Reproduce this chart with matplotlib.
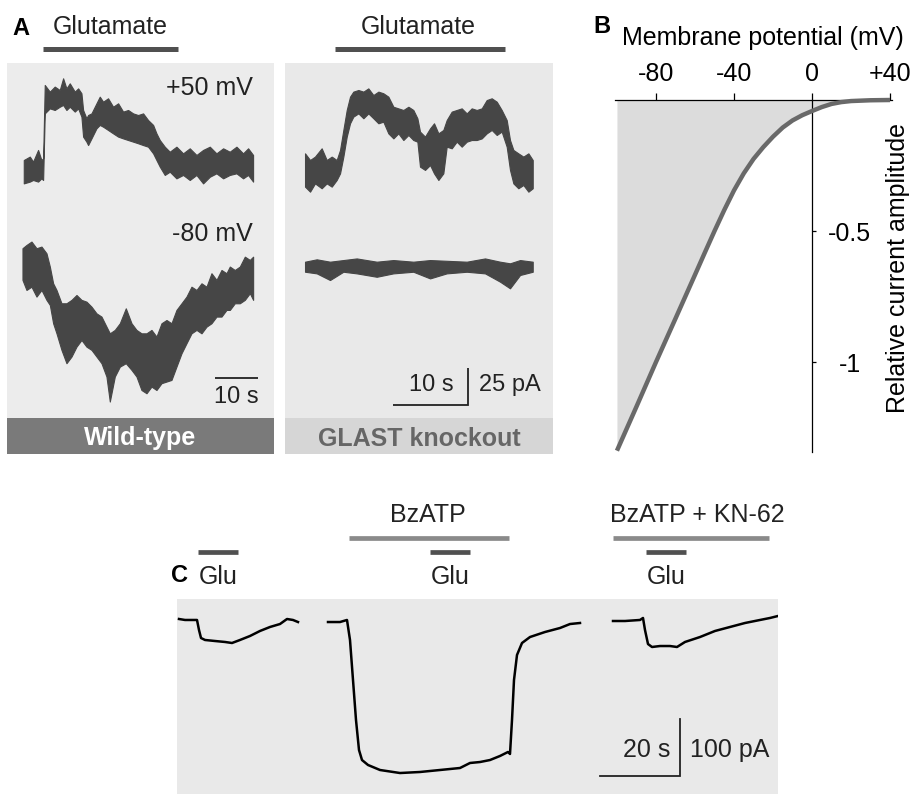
import numpy as np
import matplotlib
matplotlib.use("Agg")
import matplotlib.pyplot as plt

plt.rcParams['font.family'] = ['Liberation Sans', 'DejaVu Sans']

# ---------------- data ----------------
# Panel A, wild-type, +50 mV (time s, current pA; upper / lower noise envelope)
WT50_T = [0, 1.4, 2.17, 3.33, 4.1, 4.5, 4.88, 6.05, 7.2, 8.37,
          9.15, 9.92, 10.7, 11.86, 12.64, 13.41, 13.8, 14.57, 14.96, 15.74,
          16.9, 17.67, 18.45, 19.6, 20.78, 21.94, 23.1, 24.26, 25.43, 26.59,
          27.75, 28.91, 30.08, 30.85, 31.63, 32.79, 33.95, 35.5, 37.05, 38.6,
          40.16, 41.7, 43.26, 44.8, 46.36, 47.9, 49.46, 51.0, 52.17, 53.33]
WT50_HI = [8.1, 10.4, 7.0, 14.9, 8.1, 9.2, 58.8, 54.3, 57.7, 55.4,
           63.3, 56.5, 59.9, 54.3, 56.5, 53.2, 41.9, 36.3, 38.5, 39.6,
           46.4, 50.9, 47.5, 49.8, 44.1, 46.4, 40.8, 41.9, 39.6, 38.5,
           39.6, 35.1, 31.8, 26.1, 21.6, 17.1, 13.7, 17.1, 12.6, 16.0,
           11.5, 14.9, 17.1, 12.6, 16.0, 13.7, 17.1, 12.6, 16.0, 11.5]
WT50_LO = [-7.7, -6.5, -5.4, -6.5, -4.3, -5.4, 39.6, 43.0, 41.9, 44.1,
           45.3, 41.9, 44.1, 40.8, 43.0, 37.4, 23.9, 20.5, 18.2, 22.7,
           29.5, 31.8, 30.6, 28.4, 26.1, 23.9, 22.7, 21.6, 20.5, 19.4,
           18.2, 17.1, 12.6, 8.1, 3.6, -2.0, 0.2, -4.3, -2.0, -5.4,
           -2.0, -7.7, -3.2, -0.9, -4.3, -2.0, -0.9, -4.3, -2.0, -6.5]
# Panel A, wild-type, -80 mV
WT80_T = [0, 0.93, 2.09, 3.26, 4.42, 5.58, 6.36, 7.13, 7.91, 9.07,
          10.23, 11.4, 12.56, 13.72, 14.88, 16.05, 17.21, 18.37, 19.53, 20.31,
          21.47, 22.64, 24.03, 25.35, 26.51, 27.67, 28.84, 30.0, 31.16, 32.33,
          33.49, 34.65, 35.81, 36.98, 38.14, 39.3, 40.47, 41.63, 42.79, 43.95,
          45.12, 46.28, 47.44, 48.22, 49.38, 50.54, 51.71, 52.87, 53.64]
WT80_HI = [11.3, 13.5, 15.8, 11.3, 12.4, 7.9, -1.1, -12.4, -16.9, -25.9,
           -25.9, -23.6, -20.3, -23.6, -24.8, -28.2, -32.7, -34.9, -41.7, -46.2,
           -43.9, -39.4, -29.3, -39.4, -43.9, -46.2, -46.2, -43.9, -48.4, -39.4,
           -37.2, -39.4, -30.4, -25.9, -21.4, -14.7, -16.9, -12.4, -14.7, -5.6,
           -10.1, -3.4, -5.6, -1.1, -3.4, -1.1, 5.6, 3.4, 5.6]
WT80_LO = [-10.1, -16.9, -14.7, -21.4, -16.9, -23.6, -27.0, -39.4, -46.2, -57.4,
           -66.4, -61.9, -55.2, -50.7, -55.2, -57.4, -61.9, -66.4, -75.4, -92.3,
           -75.4, -68.7, -66.4, -70.9, -75.4, -84.5, -86.7, -82.2, -84.5, -79.9,
           -78.8, -77.7, -68.7, -59.7, -52.9, -46.2, -43.9, -46.2, -41.7, -39.4,
           -34.9, -34.9, -30.4, -30.4, -25.9, -25.9, -23.6, -19.1, -23.6]
# Panel A, GLAST knockout, +50 mV
KO50_T = [0, 0.67, 1.33, 2.22, 2.89, 3.56, 4.22, 4.67, 5.11, 5.56,
          6.0, 6.44, 7.11, 7.78, 8.44, 9.11, 9.78, 10.44, 11.11, 11.78,
          12.44, 13.11, 13.78, 14.44, 14.98, 15.33, 16.0, 16.67, 17.2, 17.78,
          18.44, 18.89, 19.56, 20.22, 20.89, 21.56, 22.22, 22.89, 23.56, 24.22,
          24.89, 25.56, 26.22, 26.89, 27.33, 27.78, 28.44, 29.11, 29.78, 30.36]
KO50_HI = [12.6, 8.1, 10.4, 16.0, 8.1, 10.4, 8.1, 14.9, 28.4, 41.9,
           50.9, 54.3, 55.4, 54.3, 56.5, 52.0, 54.3, 53.2, 50.9, 44.1,
           43.0, 41.9, 44.1, 41.9, 36.3, 27.3, 23.9, 29.5, 32.9, 26.1,
           28.4, 35.1, 40.8, 41.9, 43.0, 39.6, 43.0, 41.9, 43.0, 48.6,
           49.8, 47.5, 41.9, 35.1, 21.6, 14.9, 12.6, 10.4, 12.6, 8.1]
KO50_LO = [-9.9, -13.3, -7.7, -11.0, -7.7, -9.9, -5.4, -0.9, 10.4, 23.9,
           32.9, 37.4, 39.6, 36.3, 39.6, 36.3, 32.9, 34.0, 26.1, 22.7,
           26.1, 21.6, 25.0, 21.6, 20.5, 3.6, 1.4, 4.7, -0.9, -5.4,
           -0.9, 17.1, 16.0, 20.5, 17.1, 20.5, 21.6, 21.6, 22.7, 26.1,
           28.4, 25.0, 27.3, 17.1, 1.4, -7.7, -11.0, -8.8, -13.3, -11.0]
# Panel A, GLAST knockout, -80 mV
KO80_T = [0, 1.56, 3.33, 5.11, 6.89, 9.56, 11.78, 14.44, 16.67, 18.89,
          21.56, 24.0, 26.0, 27.33, 28.67, 30.36]
KO80_HI = [3.4, 5.0, 3.4, 4.5, 5.6, 3.4, 4.5, 3.4, 4.5, 4.0,
           3.4, 5.6, 3.4, 2.3, 4.5, 3.4]
KO80_LO = [-3.4, -4.5, -9.0, -3.4, -4.5, -6.8, -4.5, -3.4, -7.9, -4.5,
           -3.4, -4.5, -10.1, -14.6, -5.6, -3.4]
GLU_WT = [4.4, 35.8]
GLU_KO = [4.0, 26.7]

# Panel B: relative current vs membrane potential
B_V = [-100, -90, -80, -70, -60, -55, -50, -45, -40, -35, -30, -25, -20, -15, -10, -5, 0, 5, 10, 15, 20, 30, 40]
B_I = [-1.338, -1.17, -1.0, -0.834, -0.667, -0.583, -0.50, -0.42, -0.345, -0.28, -0.225, -0.18, -0.14,
       -0.105, -0.078, -0.058, -0.042, -0.027, -0.015, -0.008, -0.004, -0.001, 0.0]
B_XTICKS = [-80, -40, 0, 40]
B_XLABELS = ['-80', '-40', '0', '+40']
B_YTICKS = [-0.5, -1.0]
B_YLABELS = ['-0.5', '-1']

# Panel C traces (time s, current pA)
C1_T = [0, 1.5, 4.5, 5.0, 5.5, 6.5, 9, 11.5, 13.25, 15.25, 17.75, 20.25, 22.75, 25.25, 27, 28.5, 29.75]
C1_I = [3.5, 1.8, 1.8, -15.8, -29.8, -33.3, -35.1, -36.8, -38.6, -33.3, -26.3, -17.5, -10.5, -5.3, 3.5, 1.8, -1.8]
C2_T = [0, 3, 4.75, 5.5, 6.25, 7, 7.75, 8.5, 10, 13, 18, 23, 28, 33, 35.5, 38, 40.5, 43, 45, 45.5,
        46, 46.5, 47.25, 48.5, 50.5, 54.25, 58, 60.5, 63]
C2_I = [-1.8, -1.8, 1.8, -33.3, -103.5, -173.7, -226.3, -243.9, -252.6, -261.4, -266.7, -264.9, -261.4,
        -257.9, -249.1, -247.4, -243.9, -236.8, -229.8, -233.3, -173.7, -103.5, -59.6, -38.6, -28.1,
        -19.3, -12.3, -5.3, -3.5]
C3_T = [0, 3, 6.75, 7.5, 8, 8.75, 9.75, 11.75, 14.25, 16, 18, 21.75, 25.5, 29.25, 33, 36.75, 39.25, 41.25]
C3_I = [0, 0, 1.8, 5.3, -15.8, -40.4, -45.6, -43.9, -43.9, -45.6, -36.8, -28.1, -17.5, -10.5, -3.5, 1.8, 5.3, 8.8]
C1_GLU = [4.75, 14.75]
C2_BZ = [5.25, 45.25]
C2_GLU = [25.5, 35.5]
C3_BZ = [0, 39]
C3_GLU = [8.25, 18.25]

# ---------------- layout ----------------
W, H = 912, 794
fig = plt.figure(figsize=(W / 100, H / 100), dpi=100)
fig.patch.set_facecolor('white')


def px_axes(x0, y0, x1, y1, face='none'):
    ax = fig.add_axes([x0 / W, 1 - y1 / H, (x1 - x0) / W, (y1 - y0) / H])
    ax.set_facecolor(face)
    ax.set_xticks([])
    ax.set_yticks([])
    for s in ax.spines.values():
        s.set_visible(False)
    return ax


def ftext(x, y, s, **kw):
    kw.setdefault('va', 'baseline')
    kw.setdefault('ha', 'center')
    fig.text(x / W, 1 - y / H, s, **kw)


TRACE = '#464646'


def band(ax, t, lo, hi, t0, y0):
    tt = np.asarray(t, float) + t0
    ax.fill_between(tt, np.asarray(lo, float) + y0, np.asarray(hi, float) + y0,
                    color=TRACE, lw=0.8, edgecolor=TRACE)


FS = 18

# ----- Panel A: wild-type -----
axWT = px_axes(7, 63, 274, 418, '#ececec')
axWT.set_xlim(0, 267 / 4.3)
axWT.set_ylim(-(418 - 172) / 1.48, (172 - 63) / 1.48)
band(axWT, WT50_T, WT50_LO, WT50_HI, 3.9, 0)
band(axWT, WT80_T, WT80_LO, WT80_HI, 3.6, -62.8)
axWT.plot([3.9 + GLU_WT[0], 3.9 + GLU_WT[1]], [83.1, 83.1], color='#505050', lw=3.6,
          solid_capstyle='butt', clip_on=False)
axWT.plot([48.4, 58.4], [-139.2, -139.2], color='#222222', lw=1.3, solid_capstyle='butt')

axKO = px_axes(285, 63, 553, 418, '#e9e9e9')
axKO.set_xlim(0, 268 / 7.5)
axKO.set_ylim(-(418 - 172) / 1.48, (172 - 63) / 1.48)
band(axKO, KO50_T, KO50_LO, KO50_HI, 2.67, 0)
band(axKO, KO80_T, KO80_LO, KO80_HI, 2.67, -64.0)
axKO.plot([2.67 + GLU_KO[0], 2.67 + GLU_KO[1]], [83.1, 83.1], color='#505050', lw=3.6,
          solid_capstyle='butt', clip_on=False)
axKO.plot([14.4, 24.4, 24.4], [-157.4, -157.4, -132.4], color='#222222', lw=1.3,
          solid_capstyle='butt', solid_joinstyle='miter')

labWT = px_axes(7, 418, 274, 454, '#7a7a7a')
labWT.text(0.5, 0.5, 'Wild-type', color='white', fontsize=FS, fontweight='bold',
           ha='center', va='center_baseline', transform=labWT.transAxes)
labKO = px_axes(285, 418, 553, 454, '#d6d6d6')
labKO.text(0.5, 0.5, 'GLAST knockout', color='#666666', fontsize=FS, fontweight='bold',
           ha='center', va='center_baseline', transform=labKO.transAxes)

ftext(12, 35, 'A', fontsize=17, fontweight='bold', ha='left')
ftext(110, 34.5, 'Glutamate', fontsize=FS, color='#222222')
ftext(418, 34, 'Glutamate', fontsize=FS, color='#222222')
ftext(253, 95, '+50 mV', fontsize=FS, ha='right', color='#222222')
ftext(253, 241, '-80 mV', fontsize=FS, ha='right', color='#222222')
ftext(236, 403, '10 s', fontsize=17, color='#222222')
ftext(431, 391, '10 s', fontsize=17, color='#222222')
ftext(510, 391, '25 pA', fontsize=17, color='#222222')

# ----- Panel B -----
axB = fig.add_axes([615 / W, 1 - 452 / H, (892 - 615) / W, (452 - 100) / H])
axB.set_facecolor('none')
axB.set_xlim(-101, 41)
axB.set_ylim(-1.343, 0)
axB.fill_between(B_V, B_I, 0, color='#dcdcdc', lw=0, zorder=1)
axB.plot(B_V, B_I, color='#696969', lw=3.2, clip_on=False, zorder=3, solid_capstyle='butt')
for s in ['left', 'bottom']:
    axB.spines[s].set_visible(False)
axB.spines['top'].set_linewidth(0.9)
axB.spines['right'].set_position(('data', 0))
axB.spines['right'].set_linewidth(0.9)
axB.xaxis.tick_top()
axB.set_xticks(B_XTICKS)
axB.set_xticklabels(B_XLABELS)
axB.tick_params(axis='x', direction='out', length=5, width=0.9, labelsize=FS, pad=5)
axB.yaxis.tick_right()
axB.set_yticks(B_YTICKS)
axB.set_yticklabels(B_YLABELS)
axB.tick_params(axis='y', direction='out', length=3, width=0.9, labelsize=FS, pad=24)
for lab in axB.get_yticklabels():
    lab.set_horizontalalignment('center')
ftext(593, 33, 'B', fontsize=17, fontweight='bold', ha='left')
ftext(763, 45, 'Membrane potential (mV)', fontsize=FS)
ftext(898, 268, 'Relative current amplitude', fontsize=FS, rotation=90, va='center')

# ----- Panel C -----
axC = px_axes(177, 599, 778, 794, '#e9e9e9')
axC.set_xlim(0, 601 / 4)
axC.set_ylim(-(794 - 621) / 0.57, (621 - 599) / 0.57)
axC.plot(np.asarray(C1_T) + 0.5, C1_I, color='black', lw=1.8)
axC.plot(np.asarray(C2_T) + 37.75, C2_I, color='black', lw=1.8)
axC.plot(np.asarray(C3_T) + 109, C3_I, color='black', lw=1.8)
bar_kw = dict(solid_capstyle='butt', clip_on=False)
axC.plot(np.asarray(C1_GLU) + 0.5, [121, 121], color='#505050', lw=3.4, **bar_kw)
axC.plot(np.asarray(C2_GLU) + 37.75, [121, 121], color='#505050', lw=3.4, **bar_kw)
axC.plot(np.asarray(C3_GLU) + 109, [121, 121], color='#505050', lw=3.4, **bar_kw)
axC.plot(np.asarray(C2_BZ) + 37.75, [145.6, 145.6], color='#8a8a8a', lw=3.4, **bar_kw)
axC.plot(np.asarray(C3_BZ) + 109, [145.6, 145.6], color='#8a8a8a', lw=3.4, **bar_kw)
axC.plot([105.75, 125.75, 125.75], [-271.9, -271.9, -171.9], color='#222222', lw=1.3,
         solid_joinstyle='miter')

ftext(171, 582, 'C', fontsize=17, fontweight='bold', ha='left')
ftext(218, 584, 'Glu', fontsize=FS, color='#222222')
ftext(450, 584, 'Glu', fontsize=FS, color='#222222')
ftext(666, 584, 'Glu', fontsize=FS, color='#222222')
ftext(428, 522, 'BzATP', fontsize=FS, color='#222222')
ftext(697, 522, 'BzATP + KN-62', fontsize=FS, color='#222222')
ftext(647, 757, '20 s', fontsize=FS, color='#222222')
ftext(730, 757, '100 pA', fontsize=FS, color='#222222')

fig.savefig('out.png', dpi=100)
